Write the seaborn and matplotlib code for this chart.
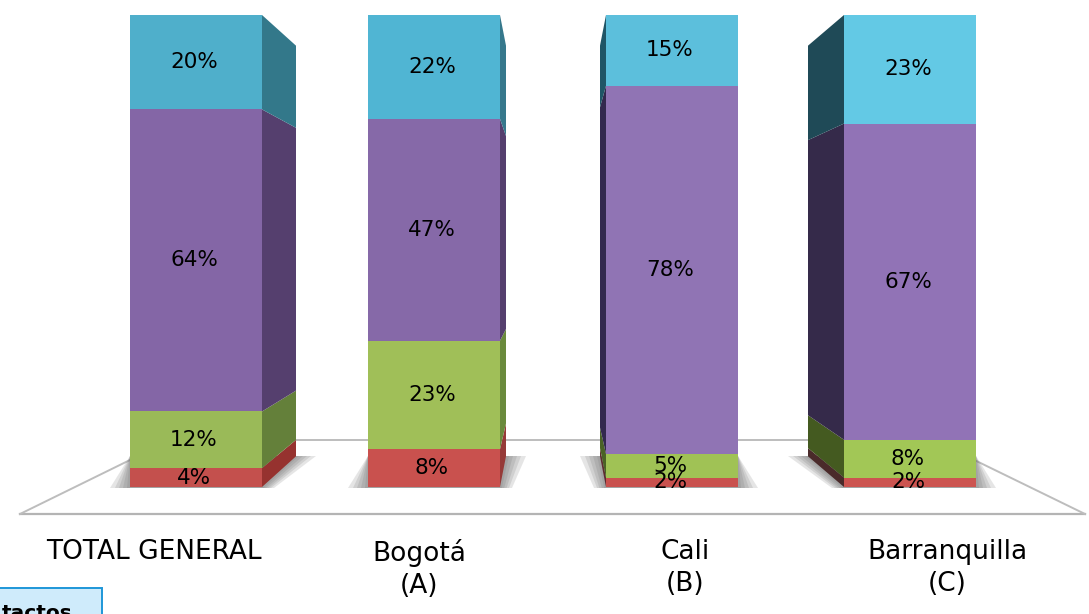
import matplotlib
matplotlib.use("Agg")
import matplotlib.pyplot as plt
import numpy as np
import pandas as pd
import seaborn as sns
from matplotlib.patches import Rectangle

W, H = 1089, 614

categories = ["TOTAL GENERAL", "Bogotá", "Cali", "Barranquilla"]
axis_labels = ["TOTAL GENERAL", "Bogotá\n(A)", "Cali\n(B)", "Barranquilla\n(C)"]
red_values = [4, 8, 2, 2]
green_values = [12, 23, 5, 8]
purple_values = [64, 47, 78, 67]
blue_values = [20, 22, 15, 23]
series_values = [red_values, green_values, purple_values, blue_values]

front_colors = [
    ["#C4504D", "#C9514E", "#C9514E", "#CC5450"],
    ["#9ABA58", "#A0BF58", "#A0C255", "#A2C756"],
    ["#8466A6", "#8669A8", "#9074B4", "#9173B6"],
    ["#4FAFCB", "#50B5D3", "#5CBFDC", "#63C9E5"],
]
side_colors = [
    ["#96322F", "#963A38", "#5E2B30", "#4A2A2A"],
    ["#64803A", "#6A8A3C", "#4A6225", "#445A20"],
    ["#553F6E", "#553F6E", "#33284E", "#352A4A"],
    ["#33788A", "#36788C", "#1F5566", "#1F4A57"],
]
side_depth_px = [34, 6, -6, -36]

X0, XSTEP = 196.0, 238.0
Y0, YSCALE = 487.0, 4.72


def dx(px):
    return (np.asarray(px, float) - X0) / XSTEP


def dy(py):
    return (Y0 - np.asarray(py, float)) / YSCALE


fig = plt.figure(figsize=(W / 100, H / 100), dpi=100, facecolor="white")
ax = fig.add_axes([0, 0, 1, 1])

# floor
ax.plot(dx([20, 1085]), dy([514, 514]), color="#B4B4B4", lw=1.6, zorder=1)
ax.plot(dx([20, 130]), dy([514, 460]), color="#BDBDBD", lw=1.4, zorder=1)
ax.plot(dx([960, 1085]), dy([453, 514]), color="#BDBDBD", lw=1.4, zorder=1)
ax.plot(dx([262, 846]), dy([440, 440]), color="#BDBDBD", lw=1.4, zorder=1)

bar_w = 132 / XSTEP
bar_half = bar_w / 2

# shadows on the floor
for i in range(4):
    d = side_depth_px[i]
    c = X0 + XSTEP * i
    l, r = c - 66, c + 66
    for grow in [20, 15, 11, 7, 3]:
        if d >= 0:
            xs = [l - grow, r + grow * 0.6, r + d + grow, l]
        else:
            xs = [l - grow * 0.6, r + grow, r, l + d - grow]
        ys = [488, 488, 456, 456]
        ax.fill(dx(xs), dy(ys), color="#6A6A6A", alpha=0.17, lw=0, zorder=1.5)

# front faces, stacked
bottom = np.zeros(4)
for values, colors in zip(series_values, front_colors):
    for i, cat in enumerate(categories):
        df = pd.DataFrame({"categoria": [cat], "valor": [values[i]]})
        sns.barplot(
            data=df, x="categoria", y="valor", order=categories,
            color=colors[i], width=bar_w, bottom=bottom[i],
            saturation=1, ax=ax, zorder=3, linewidth=0,
        )
    bottom = bottom + np.array(values)

# side faces in perspective
for i in range(4):
    d = side_depth_px[i]
    edge = i + (bar_half if d > 0 else -bar_half)
    back = edge + d / XSTEP
    base = 0.0
    for s, values in enumerate(series_values):
        top = base + values[i]
        py_low = Y0 - base * YSCALE
        py_high = Y0 - top * YSCALE
        f = 0.87
        back_low = 251 + (py_low - 251) * f
        back_high = 251 + (py_high - 251) * f
        ax.fill([edge, back, back, edge],
                [base, dy(back_low), dy(back_high), top],
                color=side_colors[s][i], lw=0, zorder=2.5)
        base = top

# value labels
for i in range(4):
    base = 0.0
    for values in series_values:
        v = values[i]
        ax.text(i - 2 / XSTEP, base + v / 2, f"{v}%", ha="center", va="center",
                fontsize=15.5, color="black", zorder=5)
        base += v

# category labels
label_px = [153.5, 419, 685, 947]
for lab, p in zip(axis_labels, label_px):
    ax.text(dx(p), dy(539), lab, ha="center", va="top", fontsize=19,
            color="black", linespacing=1.28, zorder=5)

# clipped button at the lower-left corner
btn = Rectangle((dx(-4), dy(618)), (106) / XSTEP, 30 / YSCALE,
                facecolor="#CFEBFB", edgecolor="#1E96D8", lw=1.4, zorder=4)
ax.add_patch(btn)
ax.text(dx(73), dy(604), "tactos", ha="right", va="top", fontsize=14.5,
        fontweight="bold", color="black", zorder=5, clip_on=True)

ax.set_xlim(dx(0), dx(W))
ax.set_ylim(dy(H), dy(0))
ax.axis("off")
fig.savefig("out.png", dpi=100, facecolor="white")
